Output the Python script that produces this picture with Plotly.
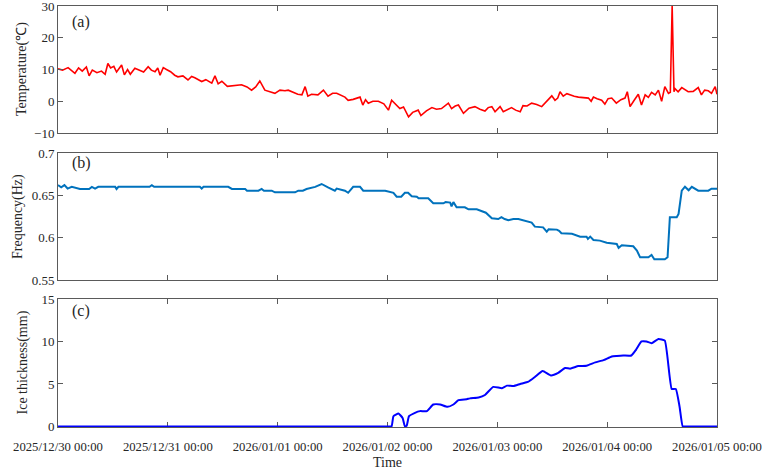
import pandas as pd
import plotly.graph_objects as go
from plotly.subplots import make_subplots

BASE = pd.Timestamp("2025-12-30 00:00")

# Temperature: hours since 2025/12/30 00:00 and values (°C)
temp_hours = [0, 1, 2.2, 3, 3.7, 4.5, 5.3, 6.2, 6.8, 7.5, 8.5, 9.5, 10.3, 10.9, 11.5, 12.2, 12.8,
              13.9, 14.5, 15.2, 15.8, 16.8, 17.8, 18.7, 19.7, 20.4, 21.2, 21.8, 22.3, 23.0, 23.7,
              24.6, 25.5, 26.2, 27.3, 28.4, 29.2, 29.9, 31.4, 32.3, 33.6, 34.3, 35.0, 35.8, 37.0,
              38.5, 40.1, 41.3, 42.3, 43.2, 44.1, 45.2, 46.3, 47.4, 48.5, 49.6, 50.3, 51.3, 52.4,
              53.3, 54.0, 54.6, 55.4, 56.8, 58.0, 59.0, 60.0, 60.9, 62.0, 62.7, 63.4, 64.5, 66.0,
              66.6, 67.2, 67.8, 68.8, 70.0, 71.2, 72.2, 72.9, 73.8, 74.7, 75.5, 76.6, 77.5, 78.7,
              79.3, 80.5, 81.7, 82.7, 83.8, 84.6, 85.3, 86.0, 86.8, 87.5, 88.6, 89.8, 91.1, 92.2,
              93.3, 94.0, 94.8, 95.5, 96.6, 97.3, 98.3, 99.1, 100.0, 101.0, 101.6, 102.5, 103.5,
              104.6, 105.7, 106.8, 107.9, 108.6, 109.2, 109.7, 110.4, 111.2, 111.9, 112.8, 113.7,
              114.8, 115.9, 116.5, 117.0, 117.8, 118.8, 119.5, 120.2, 121.0, 122.0, 123.0, 123.9,
              124.4, 125.0, 125.9, 126.8, 127.5, 128.3, 129.0, 129.7, 130.5, 131.2, 131.9, 132.6,
              133.4, 133.8, 134.2, 134.6, 134.8, 135.5, 136.3, 137.0, 137.7, 138.8, 139.9, 140.6,
              141.3, 142.1, 142.8, 143.6, 144]
temp_values = [10.2, 9.8, 10.6, 9.5, 8.8, 10.5, 9.5, 10.8, 8.0, 9.8, 9.0, 9.5, 8.5, 11.9, 10.5, 11.0, 9.2,
               11.4, 8.3, 10.0, 8.5, 10.4, 9.8, 9.2, 10.9, 9.8, 9.3, 10.5, 8.2, 10.6, 10.0,
               9.3, 8.2, 7.7, 8.0, 6.7, 7.8, 7.4, 6.2, 6.8, 5.7, 8.0, 5.5, 6.3, 4.7,
               5.0, 5.2, 4.5, 3.5, 4.5, 6.4, 3.5, 3.0, 2.5, 3.5, 3.3, 3.5, 2.8, 2.2,
               2.0, 4.6, 1.6, 2.2, 2.0, 3.5, 1.6, 2.5, 2.5, 1.8, 1.3, 0.3, 0.6, 1.3,
               -1.2, 0.5, -0.6, 0.0, 0.0, -0.8, -2.8, 0.3, -1.0, -2.3, -1.8, -4.9, -3.5, -2.8,
               -4.5, -3.0, -2.0, -2.5, -2.3, -1.5, -0.6, -2.3, -1.5, -1.2, -3.8, -2.2, -1.7, -2.5,
               -3.1, -2.0, -1.7, -3.3, -1.7, -3.3, -2.5, -2.0, -2.8, -3.3, -1.4, -1.5, -0.6,
               -1.0, -1.7, 0.0, 1.7, 0.3, 1.0, 3.0, 1.6, 2.4, 2.0, 1.6, 1.3,
               1.2, 1.0, 0.0, 1.3, 0.8, 0.3, -0.9, 0.8, 1.0, -0.6, 0.5, 1.0,
               3.0, -1.7, 0.3, 2.2, -1.2, 2.0, 1.2, 2.8, 2.0, 3.5, 0.0, 4.6,
               2.5, 2.8, 30.0, 3.0, 4.0, 3.0, 4.3, 3.5, 3.0, 3.1, 4.3, 2.0,
               3.5, 3.3, 2.5, 4.6, 2.2]

# Frequency (Hz)
freq_hours = [0, 0.7, 1.4, 2.1, 3.0, 4.8, 6.8, 7.4, 8.1, 8.8, 12.5, 12.8, 13.2, 20.0, 20.5, 21.0,
              31.0, 31.4, 31.8, 37.2, 38.0, 40.9, 41.3, 43.8, 44.5, 45.0, 46.7, 47.4, 51.8, 52.5,
              53.5, 54.3, 56.2, 57.6, 59.1, 60.5, 60.9, 62.7, 63.4, 64.5, 66.0, 66.3, 66.7, 70.4,
              71.5, 73.3, 74.0, 75.0, 75.8, 76.5, 77.3, 78.4, 78.8, 80.9, 82.0, 84.2, 84.7, 85.7,
              86.0, 86.4, 87.1, 88.9, 89.7, 91.5, 93.0, 93.5, 94.8, 96.2, 96.9, 97.6, 98.4, 99.5,
              100.6, 102.4, 103.5, 104.2, 106.0, 106.8, 107.2, 109.0, 109.5, 110.0, 112.3, 114.1,
              115.5, 115.8, 116.3, 117.0, 118.4, 119.9, 122.1, 122.5, 123.2, 125.7, 126.5, 127.2,
              129.0, 129.7, 130.3, 132.6, 133.2, 133.7, 135.2, 135.6, 136.3, 137.0, 137.8, 138.5,
              139.9, 142.1, 142.8, 144]
freq_values = [0.662, 0.6595, 0.662, 0.658, 0.660, 0.6575, 0.6575, 0.660, 0.658, 0.660, 0.660, 0.6575, 0.660,
               0.660, 0.662, 0.660, 0.660, 0.658, 0.660, 0.660, 0.6575, 0.6575, 0.6555, 0.6555, 0.6575,
               0.6555, 0.6555, 0.6535, 0.6535, 0.6555, 0.6555, 0.6575, 0.660, 0.6634, 0.659, 0.6555,
               0.658, 0.6555, 0.653, 0.660, 0.660, 0.658, 0.6555, 0.6555, 0.6555, 0.653, 0.6484,
               0.6484, 0.653, 0.653, 0.649, 0.6484, 0.6465, 0.6465, 0.6406, 0.6406, 0.642, 0.6414,
               0.637, 0.642, 0.6359, 0.6359, 0.6335, 0.6335, 0.6307, 0.6295, 0.6229, 0.622, 0.6243,
               0.622, 0.6205, 0.622, 0.622, 0.619, 0.6178, 0.613, 0.6122, 0.607, 0.6098, 0.6095,
               0.608, 0.6052, 0.6045, 0.6012, 0.6012, 0.5985, 0.6012, 0.5973, 0.5965, 0.594, 0.5925,
               0.588, 0.591, 0.5898, 0.5847, 0.5768, 0.5768, 0.5795, 0.5745, 0.5745, 0.5768, 0.624,
               0.624, 0.628, 0.6555, 0.6602, 0.656, 0.660, 0.6555, 0.6555, 0.6578, 0.6578]

# Ice thickness (mm)
ice_hours = [0, 24, 48, 66, 70, 72.4, 72.9, 73.3, 74.4, 75.3, 75.8, 76.2, 76.7, 78.0, 79.1, 80.6, 82.0,
             83.5, 85.1, 86.4, 87.5, 89.3, 90.0, 91.9, 93.3, 95.1, 97.0, 98.1, 99.5, 101.0, 102.8,
             104.2, 105.9, 107.7, 109.3, 110.8, 111.9, 113.7, 115.5, 117.4, 119.2, 121.0, 122.1,
             123.5, 125.3, 126.3, 127.5, 128.6, 129.7, 131.2, 132.6, 134.1, 135.0, 135.8, 136.5,
             137.0, 138.5, 141, 144]
ice_values = [0, 0, 0, 0, 0, 0, 0, 1.2, 1.52, 1.0, 0, 0.1, 1.2, 1.6, 1.8, 1.8, 2.58,
              2.58, 2.3, 2.58, 3.09, 3.2, 3.3, 3.4, 3.7, 4.65, 4.5, 4.8, 4.75, 5.0, 5.27,
              5.82, 6.52, 6.0, 6.3, 6.88, 6.8, 7.1, 7.15, 7.54, 7.8, 8.24, 8.3,
              8.35, 8.35, 9.02, 10.0, 10.0, 9.8, 10.3, 10.1, 4.41, 4.41, 2.4, 0,
              0, 0, 0, 0]

day_ticks = ["2025-12-30", "2025-12-31", "2026-01-01", "2026-01-02", "2026-01-03", "2026-01-04", "2026-01-05"]
day_labels = ["2025/12/30 00:00", "2025/12/31 00:00", "2026/01/01 00:00", "2026/01/02 00:00",
              "2026/01/03 00:00", "2026/01/04 00:00", "2026/01/05 00:00"]


def to_time(hours):
    return [BASE + pd.Timedelta(hours=h) for h in hours]


FONT = "Times New Roman, Liberation Serif, serif"
AX = "#5a5a5a"

fig = make_subplots(rows=3, cols=1, shared_xaxes=False, vertical_spacing=0.05)
fig.add_trace(go.Scatter(x=to_time(temp_hours), y=temp_values, mode="lines",
                         line=dict(color="#ff0000", width=1.6)), row=1, col=1)
fig.add_trace(go.Scatter(x=to_time(freq_hours), y=freq_values, mode="lines", line_shape="linear",
                         line=dict(color="#0072bd", width=2)), row=2, col=1)
fig.add_trace(go.Scatter(x=to_time(ice_hours), y=ice_values, mode="lines", line_shape="spline",
                         line=dict(color="#0000ff", width=2, smoothing=0.4)), row=3, col=1)

H = 421.0
doms = [((427 - 133) / H, 1.0), ((427 - 280) / H, (427 - 153) / H), (0.0, (427 - 299) / H)]
yranges = [[-10, 30], [0.55, 0.7], [-0.07, 15]]
ydticks = [10, 0.05, 5]
ytick0 = [-10, 0.55, 0]

for i in range(3):
    n = "" if i == 0 else str(i + 1)
    fig.layout["xaxis" + n].update(
        type="date", range=[day_ticks[0], day_ticks[-1]], tickvals=day_ticks,
        ticktext=day_labels if i == 2 else [""] * 7, showticklabels=(i == 2),
        ticks="inside", ticklen=5, tickcolor=AX, showline=True, linecolor=AX, linewidth=1,
        mirror="ticks", showgrid=False, zeroline=False, domain=[0, 1], layer="below traces",
        ticklabelstandoff=8, ticklabeloverflow="allow", automargin=False,
        tickfont=dict(family=FONT, size=12.7, color="#262626"))
    fig.layout["yaxis" + n].update(
        range=yranges[i], tick0=ytick0[i], dtick=ydticks[i], domain=list(doms[i]),
        ticks="inside", ticklen=5, tickcolor=AX, showline=True, linecolor=AX, linewidth=1,
        mirror="ticks", showgrid=False, zeroline=False, automargin=False,
        ticklabeloverflow="allow",
        tickfont=dict(family=FONT, size=13, color="#262626"))

fig.layout.yaxis2.tickformat = ".2~f"

W = 659.0
ann = []
titles = [("Temperature(℃)", 22.5, 69.5), ("Frequency(Hz)", 17.5, 216.5), ("Ice thickness(mm)", 22.5, 363)]
for t, px, py in titles:
    ann.append(dict(text=t, x=(px - 58) / W, y=(427 - py) / H, xref="paper", yref="paper",
                    textangle=-90, showarrow=False, xanchor="center", yanchor="middle",
                    font=dict(family=FONT, size=14, color="#262626")))
for t, py in [("(a)", 21.5), ("(b)", 163), ("(c)", 311)]:
    ann.append(dict(text=t, x=(70 - 58) / W, y=(427 - py) / H, xref="paper", yref="paper",
                    showarrow=False, xanchor="left", yanchor="middle",
                    font=dict(family=FONT, size=16, color="#262626")))
ann.append(dict(text="Time", x=0.5, y=(427 - 462) / H, xref="paper", yref="paper",
                showarrow=False, xanchor="center", yanchor="middle",
                font=dict(family=FONT, size=14, color="#262626")))

fig.update_layout(width=762, height=473, margin=dict(l=58, r=45, t=6, b=46, autoexpand=False),
                  plot_bgcolor="white", paper_bgcolor="white", showlegend=False,
                  annotations=ann)

fig.write_html("out.html")
